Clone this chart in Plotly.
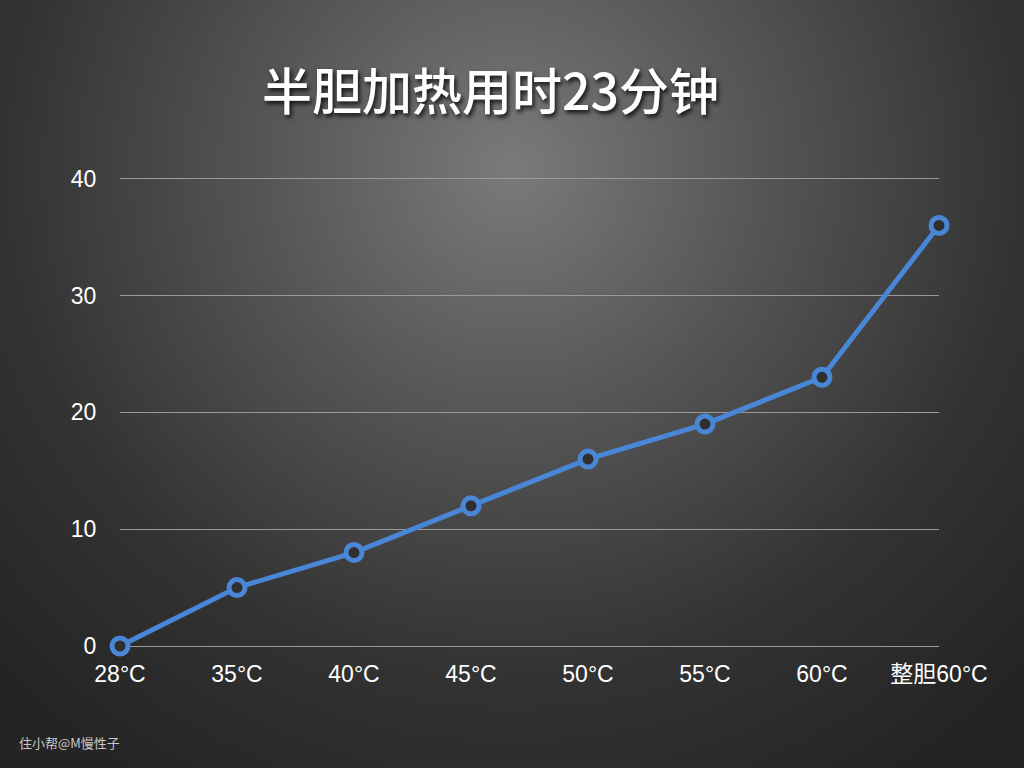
import base64
import plotly.graph_objects as go

categories = ["28°C", "35°C", "40°C", "45°C", "50°C", "55°C", "60°C", "整胆60°C"]
minutes = [0, 5, 8, 12, 16, 19, 23, 36]
y_ticks = [0, 10, 20, 30, 40]

title_text = "半胆加热用时23分钟"
watermark = "住小帮@M慢性子"

svg = """<svg xmlns='http://www.w3.org/2000/svg' width='1024' height='768'>
<defs><radialGradient id='g' cx='512' cy='170' r='720' gradientUnits='userSpaceOnUse'>
<stop offset='0' stop-color='#7a7a7a'/>
<stop offset='0.35' stop-color='#555555'/>
<stop offset='0.7' stop-color='#333333'/>
<stop offset='1' stop-color='#242424'/>
</radialGradient></defs>
<rect width='1024' height='768' fill='url(#g)'/></svg>"""
bg_uri = "data:image/svg+xml;base64," + base64.b64encode(svg.encode()).decode()

font_family = "Liberation Sans, Noto Sans CJK SC, sans-serif"

# plot area: x 120..939, y value 0 at 646px, 40 at 179px -> 41 at ~167px
T, B, L, R = 167, 122, 120, 85
PW, PH = 1024 - L - R, 768 - T - B

fig = go.Figure()
fig.add_trace(go.Scatter(
    x=list(range(len(categories))), y=minutes,
    mode="lines+markers",
    line=dict(color="#4a86d6", width=5),
    marker=dict(size=16, color="#2f2f2f", line=dict(color="#4a86d6", width=5)),
    cliponaxis=False,
    hoverinfo="skip",
))

fig.update_layout(
    width=1024, height=768,
    margin=dict(l=L, r=R, t=T, b=B),
    paper_bgcolor="#2a2a2a",
    plot_bgcolor="rgba(0,0,0,0)",
    showlegend=False,
    images=[dict(source=bg_uri, xref="paper", yref="paper", x=-L/PW, y=1+T/PH,
                 sizex=1024/PW, sizey=768/PH, sizing="stretch", layer="below",
                 xanchor="left", yanchor="top")],
    annotations=[
        dict(text=title_text, xref="paper", yref="paper", x=(490-L)/PW, y=1+(T-88)/PH,
             xanchor="center", yanchor="middle", showarrow=False,
             font=dict(size=50, color="white", family="Noto Sans CJK SC, sans-serif", weight=500,
                       shadow="2px 3px 4px rgba(0,0,0,0.8)")),
        dict(text=watermark, xref="paper", yref="paper", x=(17-L)/PW, y=-(742-(768-B))/PH,
             xanchor="left", yanchor="middle", showarrow=False,
             font=dict(size=13, color="#c8c8c8", family="Noto Sans CJK SC, sans-serif")),
    ],
)
fig.update_xaxes(
    range=[0, len(categories) - 1],
    tickmode="array", tickvals=list(range(len(categories))), ticktext=categories,
    showgrid=False, zeroline=False, showline=False,
    ticks="outside", ticklen=7, tickcolor="rgba(0,0,0,0)",
    tickfont=dict(size=23, color="white", family=font_family),
    fixedrange=True,
)
fig.update_yaxes(
    range=[0, 41],
    tickmode="array", tickvals=y_ticks,
    showgrid=True, gridcolor="#9a9a9a", gridwidth=1,
    zeroline=True, zerolinecolor="#9a9a9a", zerolinewidth=1,
    showline=False,
    ticks="outside", ticklen=18, tickcolor="rgba(0,0,0,0)",
    tickfont=dict(size=23, color="white", family=font_family),
    fixedrange=True,
)

fig.write_html("out.html", config={"displayModeBar": False},
               post_script="document.body.style.margin='0';")
